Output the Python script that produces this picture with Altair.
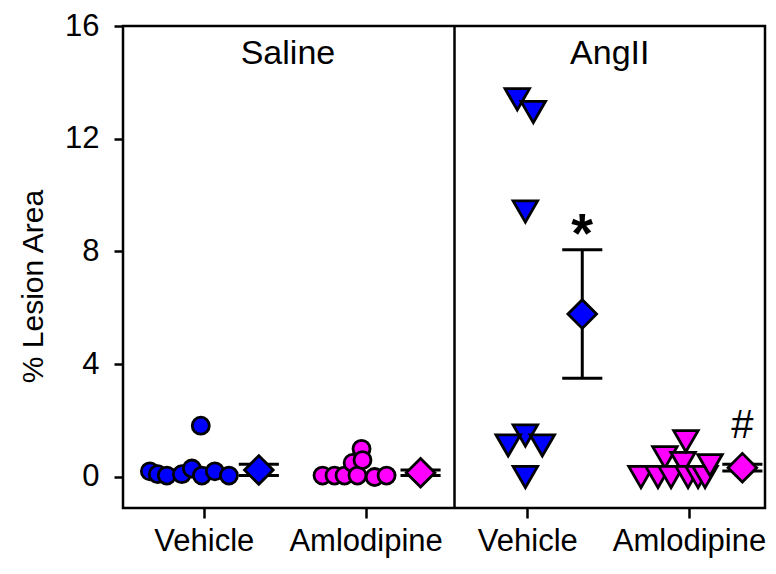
import altair as alt
import pandas as pd

FONT = "Liberation Sans"

# ---- data ----
group_treatment = ["Vehicle", "Amlodipine", "Vehicle", "Amlodipine"]
group_infusion = ["Saline", "Saline", "AngII", "AngII"]
tick_values = [1, 2, 3, 4]
tick_labels = ["Vehicle", "Amlodipine", "Vehicle", "Amlodipine"]
y_ticks = [0, 4, 8, 12, 16]

sal_veh_x = [0.666, 0.715, 0.771, 0.864, 0.926, 0.981, 0.988, 1.068, 1.155]
sal_veh_y = [0.2, 0.1, 0.05, 0.1, 0.3, 1.82, 0.05, 0.2, 0.05]

sal_aml_x = [1.734, 1.808, 1.870, 1.920, 1.950, 1.975, 1.981, 2.056, 2.130]
sal_aml_y = [0.05, 0.05, 0.05, 0.5, 0.05, 1.0, 0.6, 0.0, 0.05]

ang_veh_x = [2.938, 3.037, 2.988, 2.988, 2.882, 3.093, 2.988]
ang_veh_y = [13.4, 12.95, 9.42, 1.47, 1.12, 1.12, 0.0]

ang_aml_x = [3.703, 3.808, 3.851, 3.889, 3.963, 3.981, 3.994, 4.056, 4.099, 4.130]
ang_aml_y = [0.0, 0.0, 0.7, 0.0, 0.5, 1.27, 0.0, 0.0, 0.0, 0.42]

mean_x = [1.34, 2.34, 3.34, 4.33]
mean_y = [0.25, 0.15, 5.78, 0.33]
sem_y = [0.2, 0.1, 2.28, 0.12]

panel_titles = ["Saline", "AngII"]
panel_title_x = [1.52, 3.51]
panel_title_y = [15.0, 15.0]

marks_text = ["*", "#"]
marks_x = [3.34, 4.33]
marks_y = [9.0, 1.8]

divider_x = [2.55]

# ---- tables ----
rows = []
for xs_, ys_, g in [(sal_veh_x, sal_veh_y, 0), (sal_aml_x, sal_aml_y, 1),
                    (ang_veh_x, ang_veh_y, 2), (ang_aml_x, ang_aml_y, 3)]:
    for x, y in zip(xs_, ys_):
        rows.append({"x": x, "y": y, "treatment": group_treatment[g],
                     "infusion": group_infusion[g]})
pts = pd.DataFrame(rows)

means = pd.DataFrame({
    "x": mean_x, "y": mean_y,
    "lo": [m - s for m, s in zip(mean_y, sem_y)],
    "hi": [m + s for m, s in zip(mean_y, sem_y)],
    "treatment": group_treatment,
})
means["xl"] = means["x"] - 0.124
means["xr"] = means["x"] + 0.124

titles = pd.DataFrame({"t": panel_titles, "x": panel_title_x, "y": panel_title_y})
annots = pd.DataFrame({"t": marks_text, "x": marks_x, "y": marks_y})
divider = pd.DataFrame({"x": divider_x, "y": [-1.1], "y1": [16.0]})

xs = alt.Scale(domain=[0.5, 4.47], nice=False, zero=False)
ys = alt.Scale(domain=[-1.1, 16], nice=False, zero=False)
fill_scale = alt.Scale(domain=["Vehicle", "Amlodipine"], range=["#0000FF", "#FF00FF"])

label_expr = "datum.value == 1 || datum.value == 3 ? 'Vehicle' : 'Amlodipine'"

x_axis = alt.Axis(values=tick_values, labelExpr=label_expr, title=None, grid=False,
                  domain=False, ticks=True, tickSize=10, tickWidth=2.5,
                  tickColor="black", labelFont=FONT, labelFontSize=31,
                  labelColor="black", labelPadding=8)
y_axis = alt.Axis(values=y_ticks, title="% Lesion Area", grid=False, domain=False,
                  tickSize=9, tickWidth=2.5, tickColor="black", labelFont=FONT,
                  labelFontSize=31, labelColor="black", labelPadding=15,
                  titleFont=FONT, titleFontSize=30, titleFontWeight="normal",
                  titleColor="black", titlePadding=16, titleY=260)


def X(field):
    return alt.X(field, scale=xs, axis=x_axis, title=None)


def Y(field):
    return alt.Y(field, scale=ys, axis=y_axis, title="% Lesion Area")


points = alt.Chart(pts).mark_point(filled=True, stroke="black", strokeWidth=2.8,
                                   fillOpacity=1, opacity=1).encode(
    x=X("x:Q"), y=Y("y:Q"),
    fill=alt.Fill("treatment:N", scale=fill_scale, legend=None),
    shape=alt.Shape("infusion:N", scale=alt.Scale(domain=["Saline", "AngII"],
                    range=["circle", "triangle-down"]), legend=None),
    size=alt.Size("infusion:N", scale=alt.Scale(domain=["Saline", "AngII"],
                  range=[290, 600]), legend=None),
)

err = alt.Chart(means).mark_rule(color="black", strokeWidth=3).encode(
    x=X("x:Q"), y=Y("lo:Q"), y2="hi:Q")
cap_hi = alt.Chart(means).mark_rule(color="black", strokeWidth=3).encode(
    x=X("xl:Q"), x2="xr:Q", y=Y("hi:Q"))
cap_lo = alt.Chart(means).mark_rule(color="black", strokeWidth=3).encode(
    x=X("xl:Q"), x2="xr:Q", y=Y("lo:Q"))

diamonds = alt.Chart(means).mark_point(shape="diamond", filled=True, stroke="black",
                                       strokeWidth=2.8, size=820, fillOpacity=1,
                                       opacity=1).encode(
    x=X("x:Q"), y=Y("y:Q"),
    fill=alt.Fill("treatment:N", scale=fill_scale, legend=None))

div = alt.Chart(divider).mark_rule(color="black", strokeWidth=2.5).encode(
    x=X("x:Q"), y=Y("y:Q"), y2="y1:Q")

title_txt = alt.Chart(titles).mark_text(font=FONT, fontSize=34, color="black",
                                        baseline="middle", align="center").encode(
    x=X("x:Q"), y=Y("y:Q"), text="t:N")

star = alt.Chart(annots.iloc[[0]]).mark_text(font=FONT, fontSize=56,
                                             fontWeight="bold", color="black",
                                             baseline="middle", align="center",
                                             dy=12).encode(
    x=X("x:Q"), y=Y("y:Q"), text="t:N")
hashm = alt.Chart(annots.iloc[[1]]).mark_text(font=FONT, fontSize=40, color="black",
                                              baseline="middle", align="center").encode(
    x=X("x:Q"), y=Y("y:Q"), text="t:N")

chart = alt.layer(div, points, err, cap_hi, cap_lo, diamonds, title_txt, star, hashm).properties(
    width=642, height=482,
    autosize=alt.AutoSizeParams(type="none"),
    padding={"left": 115, "top": 18, "right": 3, "bottom": 58},
    background="white",
).configure_view(stroke="black", strokeWidth=2.5).configure_axis(grid=False)

chart.save("out.html", embed_options={"renderer": "svg", "actions": False})
